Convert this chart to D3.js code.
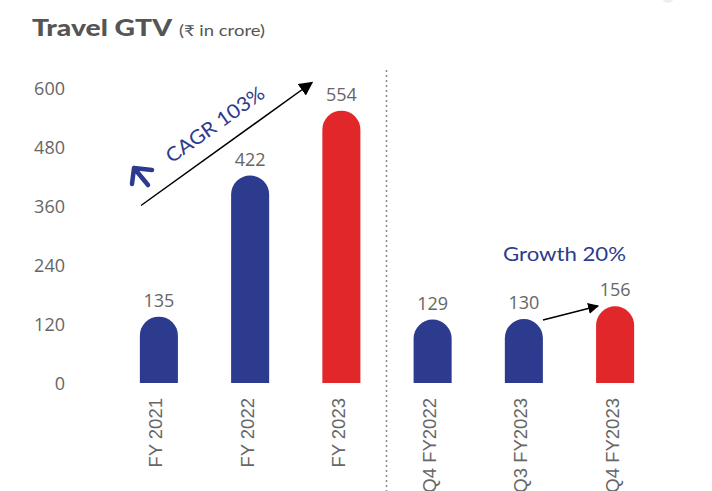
<!DOCTYPE html>
<html>
<head>
<meta charset="utf-8">
<script src="https://cdn.jsdelivr.net/npm/d3@7"></script>
<style>
  html, body { margin: 0; padding: 0; background: #fff; }
  svg { display: block; font-family: Lato, "Open Sans", sans-serif; }
</style>
</head>
<body>
<div id="chart"></div>
<script>
const categories = ["FY 2021", "FY 2022", "FY 2023", "Q4 FY2022", "Q3 FY2023", "Q4 FY2023"];
const values = [135, 422, 554, 129, 130, 156];
const yTicks = [0, 120, 240, 360, 480, 600];
const highlighted = ["FY 2023", "Q4 FY2023"];

const W = 712, H = 491;
const BLUE = "#2C3B8D", RED = "#E2272A", GRAY = "#666666";
const NUMFONT = "'Open Sans', sans-serif";

const svg = d3.select("#chart").append("svg").attr("width", W).attr("height", H);

const x = d3.scaleBand().domain(categories).range([113.4, 660.6]).paddingInner(0.583).paddingOuter(0.29);
const y = d3.scaleLinear().domain([0, 600]).range([383, 88]);

// title
svg.append("text").attr("x", 32).attr("y", 36)
  .attr("font-size", 22).attr("font-weight", 900).attr("fill", "#555")
  .attr("textLength", 140).attr("lengthAdjust", "spacingAndGlyphs").text("Travel GTV");
svg.append("text").attr("x", 179).attr("y", 36)
  .attr("font-size", 15).attr("fill", "#555")
  .attr("textLength", 86).attr("lengthAdjust", "spacingAndGlyphs").text("(₹ in crore)");

// y axis
const yAxis = d3.axisLeft(y).tickValues(yTicks).tickSize(0).tickPadding(0);
const ya = svg.append("g").attr("transform", "translate(65,0)").call(yAxis);
ya.select(".domain").remove();
ya.selectAll("text").attr("font-size", 18).attr("fill", GRAY).attr("font-family", NUMFONT).attr("dy", "0.35em");

// divider
svg.append("line").attr("x1", 386.5).attr("x2", 386.5).attr("y1", 70).attr("y2", H)
  .attr("stroke", "#888").attr("stroke-width", 1.5).attr("stroke-dasharray", "2,3");

// bars with rounded tops
const bw = x.bandwidth();
function barPath(d, i) {
  const x0 = x(categories[i]), r = bw / 2;
  const top = y(d), base = y(0);
  return `M${x0},${base} L${x0},${top + r} A${r},${r} 0 0 1 ${x0 + bw},${top + r} L${x0 + bw},${base} Z`;
}
svg.append("g").selectAll("path").data(values).join("path")
  .attr("d", barPath)
  .attr("fill", (d, i) => highlighted.includes(categories[i]) ? RED : BLUE);

// value labels
svg.append("g").selectAll("text").data(values).join("text")
  .attr("x", (d, i) => x(categories[i]) + bw / 2)
  .attr("y", d => y(d) - 10)
  .attr("text-anchor", "middle").attr("font-size", 18).attr("fill", GRAY).attr("font-family", NUMFONT)
  .text(d => d);

// x axis labels (rotated)
const xa = svg.append("g").attr("transform", `translate(0,${y(0)})`)
  .call(d3.axisBottom(x).tickSize(0).tickPadding(0));
xa.select(".domain").remove();
xa.selectAll("text")
  .attr("font-size", 18.5).attr("fill", GRAY).attr("font-family", "'Liberation Sans', Arial, sans-serif")
  .attr("text-anchor", "end")
  .attr("transform", "translate(-3,15) rotate(-90)")
  .attr("dy", "0.35em").attr("x", 0).attr("y", 0);

// arrowhead markers
const defs = svg.append("defs");
defs.append("marker").attr("id", "ah").attr("viewBox", "0 0 10 10").attr("refX", 9).attr("refY", 5)
  .attr("markerWidth", 11).attr("markerHeight", 11).attr("markerUnits", "userSpaceOnUse").attr("orient", "auto")
  .append("path").attr("d", "M0,0 L10,5 L0,10 Z").attr("fill", "#000");
defs.append("marker").attr("id", "ah2").attr("viewBox", "0 0 10 10").attr("refX", 9).attr("refY", 5)
  .attr("markerWidth", 14).attr("markerHeight", 14).attr("markerUnits", "userSpaceOnUse").attr("orient", "auto")
  .append("path").attr("d", "M0,0 L10,5 L0,10 Z").attr("fill", "#000");

// CAGR arrow
svg.append("line").attr("x1", 141).attr("y1", 205.5).attr("x2", 312).attr("y2", 82.5)
  .attr("stroke", "#000").attr("stroke-width", 1.5).attr("marker-end", "url(#ah2)");
svg.append("text").attr("transform", "translate(219,130) rotate(-35.5)")
  .attr("text-anchor", "middle").attr("font-size", 19.5).attr("fill", BLUE)
  .attr("textLength", 116).attr("lengthAdjust", "spacingAndGlyphs").text("CAGR 103%");
// small blue arrow
svg.append("path").attr("d", "M148,185 L134,168 M132,184 L134,168 L152,170")
  .attr("fill", "none").attr("stroke", BLUE).attr("stroke-width", 4.5).attr("stroke-linecap", "round").attr("stroke-linejoin", "round");

// growth arrow
svg.append("line").attr("x1", 543).attr("y1", 320).attr("x2", 598).attr("y2", 306)
  .attr("stroke", "#000").attr("stroke-width", 1.5).attr("marker-end", "url(#ah)");
svg.append("text").attr("x", 503).attr("y", 261)
  .attr("font-size", 19.5).attr("fill", BLUE)
  .attr("textLength", 123).attr("lengthAdjust", "spacingAndGlyphs").text("Growth 20%");

// faint dot top right
svg.append("circle").attr("cx", 668).attr("cy", -3).attr("r", 6).attr("fill", "#eee");
</script>
</body>
</html>
